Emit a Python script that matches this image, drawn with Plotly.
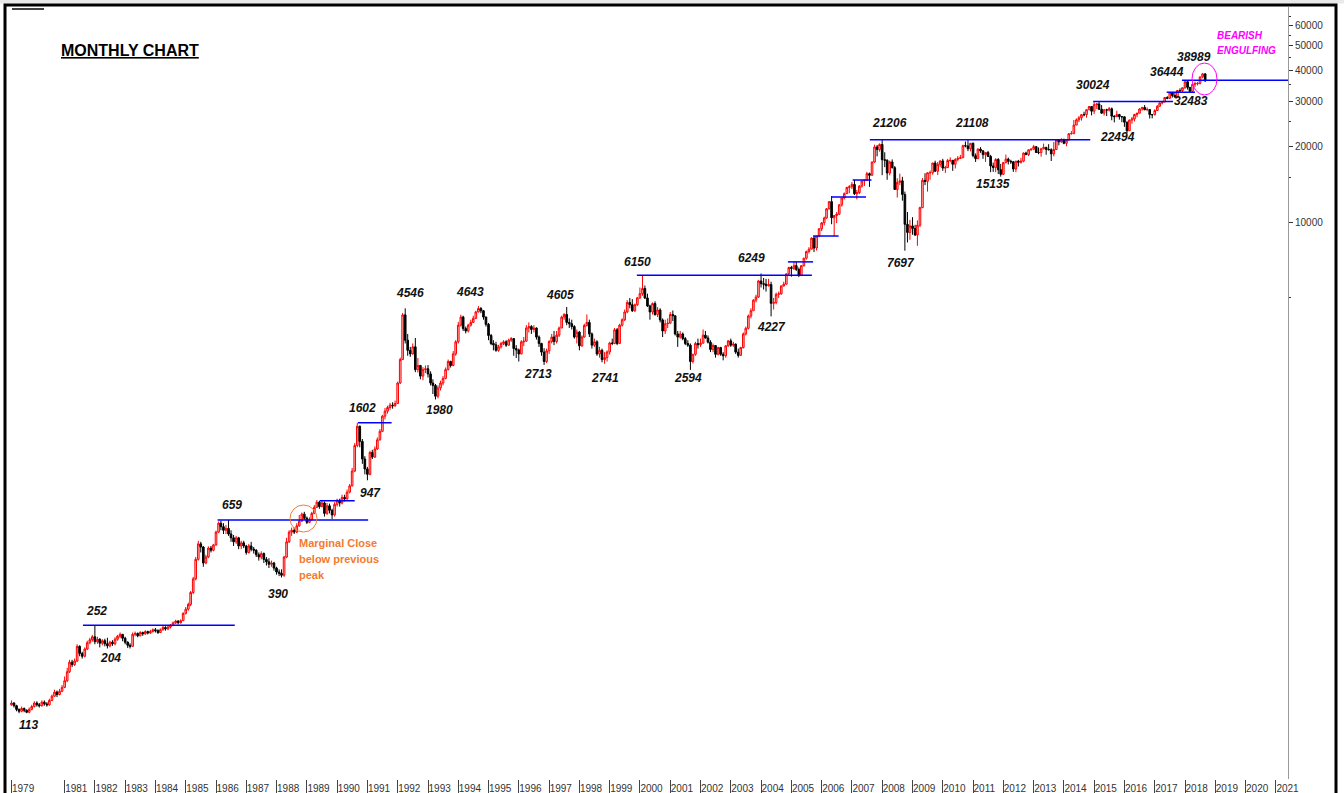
import plotly.graph_objects as go
import pandas as pd

# ---------------- DATA: monthly OHLC, Apr 1979 .. Sep 2018 ----------------
start_month = "1979-04-01"

opens = [
    122, 124, 121, 117, 115, 118, 116, 114, 117,                                   # 1979
    120, 124, 122, 121, 125, 123, 122, 127, 132, 137, 134, 138,                    # 1980
    143, 152, 165, 180, 176, 182, 208, 195, 190, 203, 215, 221,                    # 1981
    227, 217, 222, 214, 219, 213, 209, 216, 213, 222, 228, 232,                    # 1982
    224, 216, 210, 208, 232, 234, 229, 236, 233, 238, 235, 238,                    # 1983
    242, 240, 236, 242, 247, 244, 248, 252, 258, 262, 258, 263,                    # 1984
    281, 292, 305, 340, 385, 460, 530, 515, 445, 470, 510, 500,                    # 1985
    525, 590, 640, 620, 600, 610, 580, 560, 540, 560, 520, 535,                    # 1986
    520, 490, 520, 505, 500, 480, 470, 485, 460, 450, 440, 445,                    # 1987
    425, 410, 405, 398, 470, 540, 590, 600, 590, 625, 652, 695,                    # 1988
    670, 645, 660, 700, 740, 775, 745, 770, 700, 750, 720, 690,                    # 1989
    760, 790, 770, 810, 800, 850, 900, 1030, 1300, 1550, 1350, 1150,               # 1990
    1050, 1000, 1220, 1170, 1260, 1370, 1480, 1700, 1780, 1840, 1880, 1870,        # 1991
    1908, 2300, 2850, 4285, 3400, 3100, 3000, 3200, 2600, 2700, 2450, 2600,        # 1992
    2620, 2500, 2300, 2250, 2040, 2200, 2300, 2400, 2600, 2800, 2700, 3000,        # 1993
    3350, 3900, 4200, 3780, 3700, 3900, 4000, 4150, 4400, 4540, 4450, 4200,        # 1994
    3930, 3550, 3300, 3260, 3100, 3200, 3300, 3350, 3250, 3400, 3450, 3150,        # 1995
    3110, 3000, 3350, 3370, 3800, 3850, 3750, 3800, 3500, 3300, 3050, 2800,        # 1996
    3085, 3360, 3500, 3360, 3560, 3800, 4200, 4300, 4000, 3950, 3850, 3500,        # 1997
    3660, 3230, 3500, 3890, 4000, 3600, 3250, 3350, 3000, 3100, 2850, 2900,        # 1998
    3055, 3315, 3300, 3740, 3300, 3900, 4100, 4400, 4800, 4700, 4450, 4700,        # 1999
    5005, 5200, 5450, 5000, 4650, 4400, 4750, 4300, 4480, 4090, 3700, 3950,        # 2000
    3970, 4300, 4250, 3600, 3500, 3600, 3450, 3300, 3250, 2800, 2990, 3300,        # 2001
    3260, 3310, 3560, 3470, 3340, 3125, 3240, 2990, 3180, 2990, 2950, 3230,        # 2002
    3380, 3250, 3280, 3050, 2960, 3180, 3600, 3790, 4240, 4450, 4900, 5040,        # 2003
    5840, 5695, 5670, 5590, 5650, 4760, 4795, 5170, 5190, 5580, 5670, 6230,        # 2004
    6600, 6550, 6710, 6490, 6150, 6715, 7190, 7635, 7805, 8630, 7890, 8790,        # 2005
    9400, 9920, 10370, 11280, 12040, 10400, 10610, 10740, 11700, 12450, 12960, 13700,   # 2006
    13790, 14090, 12940, 13070, 13870, 14540, 14650, 15550, 15320, 17290, 19840, 19360, # 2007
    20290, 17650, 17580, 15640, 17290, 16420, 13460, 14360, 14560, 12860, 9790, 9090,   # 2008
    9650, 9420, 8890, 9710, 11400, 14630, 14490, 15670, 15670, 17130, 15900, 16930,     # 2009
    17460, 16360, 16430, 17530, 17560, 16940, 17700, 17870, 17970, 20070, 20030, 19520, # 2010
    20510, 18330, 17820, 19450, 19140, 18500, 18850, 18200, 16680, 16450, 17700, 16120, # 2011
    15450, 17190, 17750, 17400, 17320, 16220, 17430, 17240, 17430, 18760, 18500, 19340, # 2012
    19430, 19890, 18860, 18840, 19500, 19760, 19400, 19350, 18620, 19380, 21160, 20790, # 2013
    21170, 20510, 21120, 22390, 22420, 24220, 25410, 25890, 26640, 26630, 27870, 28690, # 2014
    27500, 29180, 29360, 27960, 27010, 27830, 27780, 28110, 26280, 26150, 26650, 26150, # 2015
    26120, 24870, 23000, 25340, 25600, 26670, 27000, 28050, 28450, 27870, 27930, 26650, # 2016
    26630, 27660, 28740, 29620, 29920, 31150, 30920, 32510, 31730, 31280, 33210, 33150, # 2017
    34060, 35970, 34180, 32970, 35160, 35320, 35420, 37610, 38645,                      # 2018
]

highs = [
    127, 125, 122, 118, 120, 119, 117, 119, 122,
    126, 126, 124, 127, 127, 125, 129, 134, 140, 139, 141, 146,
    158, 171, 184, 184, 186, 212, 210, 198, 206, 219, 225, 231,
    252, 227, 224, 222, 223, 225, 219, 220, 226, 231, 236, 233,
    227, 218, 214, 236, 238, 236, 239, 238, 241, 240, 242, 245,
    246, 243, 245, 251, 250, 252, 255, 261, 265, 264, 266, 284,
    298, 310, 345, 392, 470, 545, 540, 520, 480, 518, 520, 530,
    598, 650, 655, 640, 630, 659, 600, 575, 570, 565, 545, 545,
    525, 530, 540, 515, 505, 490, 495, 490, 470, 465, 455, 450,
    430, 420, 420, 475, 560, 600, 615, 615, 640, 690, 705, 710,
    680, 675, 710, 755, 790, 785, 785, 780, 770, 765, 730, 775,
    800, 800, 830, 830, 870, 915, 1060, 1330, 1602, 1560, 1380, 1180,
    1070, 1240, 1250, 1290, 1400, 1510, 1720, 1830, 1870, 1920, 1930, 1960,
    2330, 2900, 4360, 4546, 3600, 3200, 3300, 3470, 2890, 2700, 2660, 2700,
    2710, 2560, 2380, 2280, 2250, 2350, 2450, 2650, 2850, 2820, 3080, 3400,
    4020, 4290, 4250, 3850, 3950, 4100, 4250, 4450, 4643, 4600, 4480, 4220,
    3980, 3600, 3400, 3350, 3260, 3350, 3400, 3400, 3450, 3500, 3450, 3250,
    3150, 3400, 3500, 3900, 4000, 3900, 3900, 3820, 3550, 3320, 3160, 3150,
    3400, 3600, 3700, 3700, 3850, 4250, 4350, 4605, 4150, 4100, 3900, 3750,
    3700, 3550, 3950, 4300, 4100, 3650, 3450, 3400, 3200, 3150, 3050, 3100,
    3350, 3450, 3800, 3800, 3950, 4150, 4500, 4900, 5000, 4950, 4750, 5050,
    5500, 6150, 5600, 5200, 4700, 4800, 4850, 4600, 4550, 4150, 4100, 4150,
    4400, 4460, 4250, 3700, 3700, 3650, 3500, 3400, 3300, 3000, 3350, 3450,
    3450, 3750, 3700, 3550, 3400, 3300, 3250, 3200, 3200, 3050, 3250, 3400,
    3450, 3350, 3300, 3150, 3200, 3650, 3850, 4300, 4550, 4950, 5150, 5900,
    6249, 6000, 5950, 5950, 5800, 5000, 5250, 5300, 5600, 5800, 6250, 6650,
    6700, 6950, 6950, 6600, 6750, 7200, 7700, 7950, 8700, 8800, 8800, 9450,
    10000, 10500, 11350, 12100, 12670, 10650, 10950, 11750, 12500, 13100, 13800, 14000,
    14400, 14700, 13400, 14000, 14600, 14700, 15800, 15700, 17350, 20250, 20200, 20500,
    21206, 18900, 17700, 17500, 17700, 16650, 14900, 15550, 15100, 13200, 10950, 10200,
    10450, 9750, 10150, 11500, 14930, 15600, 15730, 16000, 17150, 17500, 17300, 17550,
    17800, 16700, 17800, 18050, 17600, 17900, 18250, 18450, 20250, 20850, 21108, 20550,
    20660, 18700, 19600, 19800, 19250, 18900, 19130, 18450, 17200, 17900, 17900, 17000,
    17250, 18500, 18000, 17650, 17450, 17450, 17630, 17970, 18870, 19000, 19370, 19610,
    20200, 19950, 19750, 19650, 20450, 19860, 20350, 19600, 20750, 21200, 21320, 21480,
    21410, 21200, 22470, 22940, 25380, 25730, 26300, 26670, 27350, 27900, 28820, 28800,
    29840, 29560, 30024, 29090, 28070, 28110, 28580, 28420, 26470, 27620, 26830, 26250,
    26200, 25000, 25480, 26100, 26840, 27100, 28240, 28580, 29080, 28480, 28030, 26800,
    27980, 29070, 29820, 30180, 31260, 31520, 32670, 32690, 32520, 33340, 33870, 34140,
    36444, 36250, 34280, 35210, 35990, 35880, 37640, 38989, 38934,
]

lows = [
    121, 119, 115, 113, 114, 114, 113, 113, 116,
    119, 120, 119, 120, 121, 120, 121, 126, 131, 131, 133, 137,
    142, 150, 163, 172, 174, 180, 190, 186, 188, 201, 212, 217,
    212, 213, 206, 210, 208, 204, 206, 209, 210, 219, 224, 218,
    212, 205, 204, 207, 228, 226, 228, 229, 231, 232, 233, 236,
    236, 233, 235, 240, 240, 241, 245, 250, 255, 254, 256, 262,
    278, 288, 300, 335, 380, 455, 490, 430, 440, 465, 490, 495,
    520, 585, 600, 580, 580, 570, 540, 520, 530, 505, 505, 510,
    480, 485, 495, 485, 470, 455, 460, 445, 435, 425, 430, 415,
    400, 395, 390, 392, 465, 535, 570, 580, 585, 620, 650, 660,
    635, 640, 655, 695, 735, 730, 740, 680, 690, 700, 665, 680,
    745, 745, 760, 780, 790, 840, 895, 1020, 1280, 1280, 1100, 1000,
    947, 990, 1150, 1160, 1250, 1360, 1470, 1650, 1740, 1800, 1820, 1850,
    1900, 2280, 2840, 3300, 2950, 2920, 2980, 2540, 2530, 2380, 2360, 2520,
    2420, 2250, 2080, 1980, 2000, 2150, 2250, 2380, 2580, 2650, 2680, 2950,
    3300, 3850, 3700, 3620, 3650, 3850, 3980, 4120, 4380, 4350, 4100, 3850,
    3400, 3250, 3100, 3060, 3060, 3150, 3250, 3200, 3240, 3350, 2950, 2890,
    2800, 2990, 3220, 3350, 3650, 3600, 3650, 3420, 3200, 2950, 2713, 2760,
    3000, 3300, 3250, 3300, 3500, 3800, 4100, 3900, 3800, 3750, 3450, 3300,
    3100, 3200, 3480, 3850, 3500, 3150, 3200, 2950, 2900, 2780, 2741, 2800,
    2980, 3250, 3280, 3250, 3300, 3850, 4050, 4350, 4550, 4400, 4400, 4650,
    4950, 5100, 4950, 4600, 4100, 4300, 4250, 4200, 4000, 3500, 3600, 3800,
    3950, 4050, 3550, 3200, 3450, 3400, 3250, 3200, 2594, 2750, 2950, 3150,
    3200, 3300, 3450, 3300, 3050, 3050, 2900, 2960, 2950, 2830, 2900, 3200,
    3200, 3200, 3000, 2900, 2960, 3150, 3550, 3750, 4150, 4450, 4800, 5000,
    5500, 5400, 5300, 5550, 4227, 4500, 4720, 5000, 5150, 5550, 5650, 6150,
    6070, 6450, 6400, 6050, 6100, 6650, 7100, 7500, 7800, 7600, 7700, 8700,
    9200, 9700, 10300, 11200, 9800, 8800, 9900, 10650, 11500, 12300, 12900, 13000,
    13500, 12800, 12300, 12900, 13700, 13900, 14600, 13780, 15300, 17150, 18200, 19000,
    15330, 16500, 14700, 15300, 16300, 13400, 12500, 14000, 12150, 7697, 8300, 8500,
    8900, 8800, 8047, 9550, 11350, 14000, 13200, 14700, 15400, 15800, 15350, 16550,
    15950, 15650, 16400, 17250, 15950, 16300, 17400, 17800, 17950, 19770, 19100, 19050,
    18040, 17300, 17800, 18800, 17800, 17300, 18100, 15750, 15800, 15750, 15500, 15135,
    15350, 17100, 16900, 17000, 15800, 15750, 16600, 17050, 17250, 18400, 18250, 19150,
    19250, 18800, 18570, 18150, 19400, 18470, 19200, 17450, 18200, 19300, 20140, 20600,
    20340, 19960, 21100, 22200, 22280, 24200, 24900, 25230, 26220, 25910, 27740, 26470,
    26780, 28040, 27800, 26900, 26420, 26310, 27420, 25300, 24830, 26150, 25450, 24870,
    23840, 22494, 22950, 24520, 25050, 26000, 26960, 27630, 27720, 27490, 25720, 25750,
    26450, 27590, 28720, 29240, 29800, 30680, 30870, 31130, 31080, 31250, 32680, 32570,
    33700, 33480, 32483, 32970, 34300, 34780, 35110, 37130, 35985,
]

closes = [
    124, 121, 117, 115, 118, 116, 114, 117, 120,
    124, 122, 121, 125, 123, 122, 127, 132, 137, 134, 138, 143,
    152, 165, 180, 176, 182, 208, 195, 190, 203, 215, 221, 227,
    217, 222, 214, 219, 213, 209, 216, 213, 222, 228, 232, 224,
    216, 210, 208, 232, 234, 229, 236, 233, 238, 235, 238, 242,
    240, 236, 242, 247, 244, 248, 252, 258, 262, 258, 263, 281,
    292, 305, 340, 385, 460, 530, 515, 445, 470, 510, 500, 525,
    590, 640, 620, 600, 610, 580, 560, 540, 560, 520, 535, 520,
    490, 520, 505, 500, 480, 470, 485, 460, 450, 440, 445, 425,
    410, 405, 398, 470, 540, 590, 600, 590, 625, 652, 695, 670,
    645, 660, 700, 740, 775, 745, 770, 700, 750, 720, 690, 760,
    790, 770, 810, 800, 850, 900, 1030, 1300, 1550, 1350, 1150, 1050,
    1000, 1220, 1170, 1260, 1370, 1480, 1700, 1780, 1840, 1880, 1870, 1908,
    2300, 2850, 4285, 3400, 3100, 3000, 3200, 2600, 2700, 2450, 2600, 2620,
    2500, 2300, 2250, 2040, 2200, 2300, 2400, 2600, 2800, 2700, 3000, 3350,
    3900, 4200, 3780, 3700, 3900, 4000, 4150, 4400, 4540, 4450, 4200, 3930,
    3550, 3300, 3260, 3100, 3200, 3300, 3350, 3250, 3400, 3450, 3150, 3110,
    3000, 3350, 3370, 3800, 3850, 3750, 3800, 3500, 3300, 3050, 2800, 3085,
    3360, 3500, 3360, 3560, 3800, 4200, 4300, 4000, 3950, 3850, 3500, 3660,
    3230, 3500, 3890, 4000, 3600, 3250, 3350, 3000, 3100, 2850, 2900, 3055,
    3315, 3300, 3740, 3300, 3900, 4100, 4400, 4800, 4700, 4450, 4700, 5005,
    5200, 5450, 5000, 4650, 4400, 4750, 4300, 4480, 4090, 3700, 3950, 3970,
    4300, 4250, 3600, 3500, 3600, 3450, 3300, 3250, 2800, 2990, 3300, 3260,
    3310, 3560, 3470, 3340, 3125, 3240, 2990, 3180, 2990, 2950, 3230, 3380,
    3250, 3280, 3050, 2960, 3180, 3600, 3790, 4240, 4450, 4900, 5040, 5840,
    5695, 5670, 5590, 5650, 4760, 4795, 5170, 5190, 5580, 5670, 6230, 6600,
    6550, 6710, 6490, 6150, 6715, 7190, 7635, 7805, 8630, 7890, 8790, 9400,
    9920, 10370, 11280, 12040, 10400, 10610, 10740, 11700, 12450, 12960, 13700, 13790,
    14090, 12940, 13070, 13870, 14540, 14650, 15550, 15320, 17290, 19840, 19360, 20290,
    17650, 17580, 15640, 17290, 16420, 13460, 14360, 14560, 12860, 9790, 9090, 9650,
    9420, 8890, 9710, 11400, 14630, 14490, 15670, 15670, 17130, 15900, 16930, 17460,
    16360, 16430, 17530, 17560, 16940, 17700, 17870, 17970, 20070, 20030, 19520, 20510,
    18330, 17820, 19450, 19140, 18500, 18850, 18200, 16680, 16450, 17700, 16120, 15450,
    17190, 17750, 17400, 17320, 16220, 17430, 17240, 17430, 18760, 18500, 19340, 19430,
    19890, 18860, 18840, 19500, 19760, 19400, 19350, 18620, 19380, 21160, 20790, 21170,
    20510, 21120, 22390, 22420, 24220, 25410, 25890, 26640, 26630, 27870, 28690, 27500,
    29180, 29360, 27960, 27010, 27830, 27780, 28110, 26280, 26150, 26650, 26150, 26120,
    24870, 23000, 25340, 25600, 26670, 27000, 28050, 28450, 27870, 27930, 26650, 26630,
    27660, 28740, 29620, 29920, 31150, 30920, 32510, 31730, 31280, 33210, 33150, 34060,
    35970, 34180, 32970, 35160, 35320, 35420, 37610, 38645, 36227,
]

# horizontal support / resistance levels: (from, to, level)
level_starts = ["1981-08-10", "1986-01-20", "1989-06-05", "1990-09-10", "1999-11-25",
                "2004-11-20", "2005-09-20", "2006-05-01", "2007-01-10", "2007-08-05",
                "2014-12-20", "2017-05-25", "2017-11-25"]
level_ends = ["1986-08-15", "1991-01-10", "1990-08-01", "1991-10-20", "2005-09-05",
              "2005-09-20", "2006-07-25", "2007-06-20", "2007-08-25", "2014-11-15",
              "2017-08-10", "2018-05-01", "2021-07-01"]
level_values = [252, 659, 785, 1602, 6150, 6950, 8800, 12560, 14670, 21206, 30024, 32690, 36444]

# swing labels
swing_texts = ["113", "252", "204", "659", "390", "947", "1602", "4546", "1980", "4643",
               "4605", "2713", "2741", "6150", "2594", "6249", "4227", "21206", "7697",
               "21108", "15135", "30024", "22494", "36444", "32483", "38989"]

year_labels = ["1979"] + [str(y) for y in range(1981, 2022)]
y_tick_vals = [10000, 20000, 30000, 40000, 50000, 60000]
y_minor_vals = [5000, 15000, 25000, 35000, 45000, 55000, 65000]

# ---------------- FIGURE ----------------
dates = pd.date_range(start_month, periods=len(closes), freq="MS")

W, H = 1344, 793
PL, PR, PT, PB = 9, 1288, 7, 779  # plot area in pixels


def pxx(x):
    return (x - PL) / (PR - PL)


def pyy(y):
    return (PB - y) / (PB - PT)


fig = go.Figure()
fig.add_trace(go.Candlestick(
    x=dates, open=opens, high=highs, low=lows, close=closes,
    increasing=dict(line=dict(color="#ff0000", width=1), fillcolor="#ffc0c0"),
    decreasing=dict(line=dict(color="#000000", width=1), fillcolor="#000000"),
    whiskerwidth=0, showlegend=False, hoverinfo="skip",
))

for s, e, v in zip(level_starts, level_ends, level_values):
    fig.add_trace(go.Scatter(x=[s, e], y=[v, v], mode="lines",
                             line=dict(color="#0000ff", width=1.5),
                             showlegend=False, hoverinfo="skip"))

label_pos = [(28, 725), (97, 611), (111, 658), (232, 505), (278, 594), (370, 493),
             (362, 408), (410, 293), (439, 410), (470, 292), (560, 295), (538, 374),
             (605, 378), (637, 262), (688, 378), (751, 258), (771, 327), (889, 123),
             (901, 263), (972, 123), (993, 184), (1093, 85), (1117, 137), (1167, 72),
             (1191, 101), (1194, 57)]

FONT = "Liberation Sans, Arial, sans-serif"
for t, (x, y) in zip(swing_texts, label_pos):
    fig.add_annotation(x=pxx(x), y=pyy(y), xref="paper", yref="paper",
                       text=f"<b><i>{t}</i></b>", showarrow=False,
                       font=dict(family=FONT, size=12, color="#111111"),
                       xanchor="center", yanchor="middle")

# title
fig.add_annotation(x=pxx(59), y=pyy(51), xref="paper", yref="paper",
                   text="<b><u>MONTHLY CHART</u></b>", showarrow=False,
                   font=dict(family=FONT, size=16, color="#000000"),
                   xanchor="left", yanchor="middle")

# orange note (one annotation per line)
for line_text, yy in zip(["Marginal Close", "below previous", "peak"], [543, 559, 575]):
    fig.add_annotation(x=pxx(297), y=pyy(yy), xref="paper", yref="paper",
                       text=f"<b>{line_text}</b>", showarrow=False,
                       font=dict(family=FONT, size=11, color="#f47a30"),
                       xanchor="left", yanchor="middle")

# magenta note
for line_text, yy in zip(["BEARISH", "ENGULFING"], [35, 51]):
    fig.add_annotation(x=pxx(1215), y=pyy(yy), xref="paper", yref="paper",
                       text=f"<b><i>{line_text}</i></b>", showarrow=False,
                       font=dict(family=FONT, size=10, color="#ff00ff"),
                       xanchor="left", yanchor="middle")

shapes = [
    # top grey strip
    dict(type="rect", xref="paper", yref="paper", x0=pxx(0), x1=pxx(1344), y0=pyy(3.5), y1=pyy(0),
         fillcolor="#e9e9e9", line=dict(width=0), layer="below"),
    # outer frame
    dict(type="rect", xref="paper", yref="paper", x0=pxx(5), x1=pxx(1336), y0=pyy(820), y1=pyy(5),
         line=dict(color="#000000", width=3)),
    # small mark top-left
    dict(type="line", xref="paper", yref="paper", x0=pxx(12), x1=pxx(44), y0=pyy(9), y1=pyy(9),
         line=dict(color="#000000", width=1.5)),
    # orange circle
    dict(type="circle", xref="paper", yref="paper", x0=pxx(290), x1=pxx(317), y0=pyy(532), y1=pyy(505),
         line=dict(color="#f47a30", width=1)),
    # magenta ellipse
    dict(type="circle", xref="paper", yref="paper", x0=pxx(1192), x1=pxx(1217), y0=pyy(95), y1=pyy(63),
         line=dict(color="#ff00ff", width=1)),
]

x_tick_vals = [pd.Timestamp("1979-04-01")] + [pd.Timestamp(f"{y}-01-01") for y in range(1981, 2022)]

fig.update_layout(
    width=W, height=H,
    margin=dict(l=PL, r=W - PR, t=PT, b=H - PB, pad=0),
    paper_bgcolor="#ffffff", plot_bgcolor="#ffffff",
    showlegend=False, boxgap=0.0,
    shapes=shapes,
    xaxis=dict(
        type="date", range=["1979-03-02", "2021-05-27"],
        rangeslider=dict(visible=False),
        showgrid=False, zeroline=False, showline=False,
        tickmode="array", tickvals=x_tick_vals, ticktext=year_labels,
        tickangle=0,
        ticks="outside", ticklen=13, tickwidth=1, tickcolor="#444444",
        ticklabelposition="outside right", ticklabelstandoff=0,
        tickfont=dict(family=FONT, size=10, color="#333333"),
        automargin=False, fixedrange=True,
    ),
    yaxis=dict(
        type="log", range=[1.7923, 4.8522], side="right",
        showgrid=False, zeroline=False,
        showline=True, linecolor="#999999", linewidth=1,
        tickmode="array", tickvals=y_tick_vals, ticktext=[str(v) for v in y_tick_vals],
        ticks="outside", ticklen=4, tickwidth=1, tickcolor="#333333",
        minor=dict(tickmode="array", tickvals=y_minor_vals, ticks="outside", ticklen=2,
                   tickcolor="#333333", showgrid=False),
        tickfont=dict(family=FONT, size=10, color="#333333"),
        automargin=False, fixedrange=True,
    ),
)

fig.write_html("out.html",
               config={"displayModeBar": False, "staticPlot": True},
               post_script="document.body.style.margin='0';document.body.style.overflow='hidden';")
